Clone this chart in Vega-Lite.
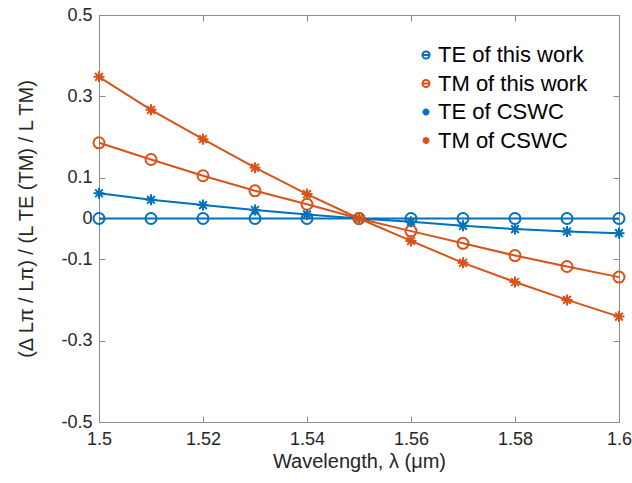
{
  "$schema": "https://vega.github.io/schema/vega-lite/v6.json",
  "autosize": {"type": "none"},
  "width": 520,
  "height": 407,
  "padding": {"left": 99, "top": 15, "right": 13, "bottom": 61},
  "background": "white",
  "config": {
    "font": "Liberation Sans",
    "view": {"stroke": "#8c8c8c", "strokeWidth": 1},
    "axis": {
      "labelFont": "Liberation Sans",
      "titleFont": "Liberation Sans",
      "labelFontSize": 18,
      "titleFontSize": 20,
      "titleFontWeight": "normal",
      "labelColor": "#262626",
      "titleColor": "#262626",
      "grid": false,
      "domain": false,
      "tickColor": "#8c8c8c",
      "tickSize": -6,
      "tickWidth": 1
    }
  },
  "data": {
    "values": [
      {"wl": 1.50, "value": 0, "series": "TE of this work"},
      {"wl": 1.51, "value": 0, "series": "TE of this work"},
      {"wl": 1.52, "value": 0, "series": "TE of this work"},
      {"wl": 1.53, "value": 0, "series": "TE of this work"},
      {"wl": 1.54, "value": 0, "series": "TE of this work"},
      {"wl": 1.55, "value": 0, "series": "TE of this work"},
      {"wl": 1.56, "value": 0, "series": "TE of this work"},
      {"wl": 1.57, "value": 0, "series": "TE of this work"},
      {"wl": 1.58, "value": 0, "series": "TE of this work"},
      {"wl": 1.59, "value": 0, "series": "TE of this work"},
      {"wl": 1.60, "value": 0, "series": "TE of this work"},
      {"wl": 1.50, "value": 0.186, "series": "TM of this work"},
      {"wl": 1.51, "value": 0.145, "series": "TM of this work"},
      {"wl": 1.52, "value": 0.105, "series": "TM of this work"},
      {"wl": 1.53, "value": 0.068, "series": "TM of this work"},
      {"wl": 1.54, "value": 0.035, "series": "TM of this work"},
      {"wl": 1.55, "value": 0, "series": "TM of this work"},
      {"wl": 1.56, "value": -0.031, "series": "TM of this work"},
      {"wl": 1.57, "value": -0.061, "series": "TM of this work"},
      {"wl": 1.58, "value": -0.091, "series": "TM of this work"},
      {"wl": 1.59, "value": -0.118, "series": "TM of this work"},
      {"wl": 1.60, "value": -0.144, "series": "TM of this work"},
      {"wl": 1.50, "value": 0.062, "series": "TE of CSWC"},
      {"wl": 1.51, "value": 0.046, "series": "TE of CSWC"},
      {"wl": 1.52, "value": 0.033, "series": "TE of CSWC"},
      {"wl": 1.53, "value": 0.021, "series": "TE of CSWC"},
      {"wl": 1.54, "value": 0.010, "series": "TE of CSWC"},
      {"wl": 1.55, "value": 0, "series": "TE of CSWC"},
      {"wl": 1.56, "value": -0.008, "series": "TE of CSWC"},
      {"wl": 1.57, "value": -0.018, "series": "TE of CSWC"},
      {"wl": 1.58, "value": -0.026, "series": "TE of CSWC"},
      {"wl": 1.59, "value": -0.032, "series": "TE of CSWC"},
      {"wl": 1.60, "value": -0.036, "series": "TE of CSWC"},
      {"wl": 1.50, "value": 0.348, "series": "TM of CSWC"},
      {"wl": 1.51, "value": 0.267, "series": "TM of CSWC"},
      {"wl": 1.52, "value": 0.195, "series": "TM of CSWC"},
      {"wl": 1.53, "value": 0.125, "series": "TM of CSWC"},
      {"wl": 1.54, "value": 0.060, "series": "TM of CSWC"},
      {"wl": 1.55, "value": 0, "series": "TM of CSWC"},
      {"wl": 1.56, "value": -0.055, "series": "TM of CSWC"},
      {"wl": 1.57, "value": -0.109, "series": "TM of CSWC"},
      {"wl": 1.58, "value": -0.156, "series": "TM of CSWC"},
      {"wl": 1.59, "value": -0.200, "series": "TM of CSWC"},
      {"wl": 1.60, "value": -0.241, "series": "TM of CSWC"}
    ]
  },
  "encoding": {
    "x": {
      "field": "wl",
      "type": "quantitative",
      "scale": {"domain": [1.5, 1.6], "nice": false, "zero": false},
      "axis": {
        "title": "Wavelength, λ (μm)",
        "values": [1.5, 1.52, 1.54, 1.56, 1.58, 1.6],
        "format": "~g",
        "labelPadding": 14,
        "titlePadding": 3,
        "labelFlush": false
      }
    },
    "y": {
      "field": "value",
      "type": "quantitative",
      "scale": {"domain": [-0.5, 0.5], "nice": false},
      "axis": {
        "title": "(Δ Lπ / Lπ) / (L TE (TM) / L TM)",
        "values": [-0.5, -0.3, -0.1, 0, 0.1, 0.3, 0.5],
        "format": "~g",
        "labelExpr": "replace(datum.label, '−', '-')",
        "labelPadding": 13,
        "titlePadding": 24,
        "labelFlush": false
      }
    }
  },
  "layer": [
    {
      "mark": {"type": "line", "strokeWidth": 2},
      "encoding": {
        "color": {
          "field": "series",
          "type": "nominal",
          "scale": {
            "domain": ["TE of this work", "TM of this work", "TE of CSWC", "TM of CSWC"],
            "range": ["#0072BD", "#D95319", "#0072BD", "#D95319"]
          },
          "legend": null
        }
      }
    },
    {
      "mark": {"type": "point", "filled": false, "strokeWidth": 2, "size": 121, "opacity": 1},
      "encoding": {
        "x": {"field": "wl", "type": "quantitative", "axis": null},
        "y": {"field": "value", "type": "quantitative", "axis": null},
        "color": {
          "field": "series",
          "type": "nominal",
          "scale": {
            "domain": ["TE of this work", "TM of this work", "TE of CSWC", "TM of CSWC"],
            "range": ["#0072BD", "#D95319", "#0072BD", "#D95319"]
          },
          "legend": null
        },
        "shape": {
          "field": "series",
          "type": "nominal",
          "scale": {
            "domain": ["TE of this work", "TM of this work", "TE of CSWC", "TM of CSWC"],
            "range": [
              "M-1,0A1,1,0,1,0,1,0A1,1,0,1,0,-1,0Z",
              "M-1,0A1,1,0,1,0,1,0A1,1,0,1,0,-1,0Z",
              "M-1,0L1,0M0,-1L0,1M-0.7,-0.7L0.7,0.7M-0.7,0.7L0.7,-0.7",
              "M-1,0L1,0M0,-1L0,1M-0.7,-0.7L0.7,0.7M-0.7,0.7L0.7,-0.7"
            ]
          },
          "legend": null
        }
      }
    },
    {
      "mark": {"type": "point", "filled": false, "opacity": 0},
      "encoding": {
        "x": {"field": "wl", "type": "quantitative", "axis": {"orient": "top", "title": null, "labels": false, "values": [1.5, 1.52, 1.54, 1.56, 1.58, 1.6]}},
        "y": {"field": "value", "type": "quantitative", "axis": {"orient": "right", "title": null, "labels": false, "values": [-0.5, -0.3, -0.1, 0, 0.1, 0.3, 0.5]}},
        "color": {
          "field": "series",
          "type": "nominal",
          "scale": {
            "domain": ["TE of this work", "TM of this work", "TE of CSWC", "TM of CSWC"],
            "range": ["#0072BD", "#D95319", "#0072BD", "#D95319"]
          },
          "legend": {
            "title": null,
            "orient": "none",
            "legendX": 316,
            "legendY": 29,
            "labelFont": "Liberation Sans",
            "labelFontSize": 22,
            "labelColor": "#000000",
            "symbolSize": 50,
            "symbolStrokeWidth": 2,
            "symbolOpacity": 1,
            "symbolFillColor": "transparent",
            "rowPadding": 6.5,
            "labelOffset": 1
          }
        },
        "shape": {
          "field": "series",
          "type": "nominal",
          "scale": {
            "domain": ["TE of this work", "TM of this work", "TE of CSWC", "TM of CSWC"],
            "range": [
              "M-1,0A1,1,0,1,0,1,0A1,1,0,1,0,-1,0ZM-1,0L1,0",
              "M-1,0A1,1,0,1,0,1,0A1,1,0,1,0,-1,0ZM-1,0L1,0",
              "M-1,0L1,0M0,-1L0,1M-0.7,-0.7L0.7,0.7M-0.7,0.7L0.7,-0.7",
              "M-1,0L1,0M0,-1L0,1M-0.7,-0.7L0.7,0.7M-0.7,0.7L0.7,-0.7"
            ]
          },
          "legend": {
            "title": null,
            "orient": "none",
            "legendX": 316,
            "legendY": 29,
            "labelFont": "Liberation Sans",
            "labelFontSize": 22,
            "labelColor": "#000000",
            "symbolSize": 50,
            "symbolStrokeWidth": 2,
            "symbolOpacity": 1,
            "symbolFillColor": "transparent",
            "rowPadding": 6.5,
            "labelOffset": 1
          }
        }
      }
    }
  ],
  "resolve": {
    "scale": {"shape": "independent", "color": "independent"},
    "axis": {"x": "independent", "y": "independent"}
  }
}
